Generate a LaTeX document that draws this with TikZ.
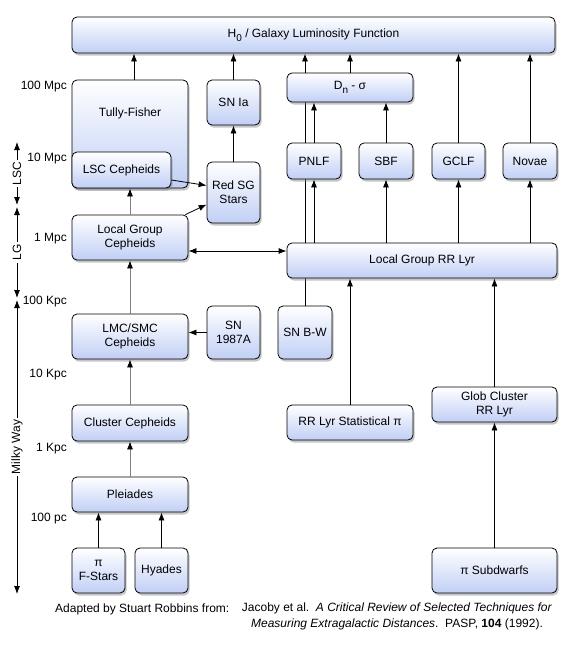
\documentclass[tikz,border=0pt]{standalone}
\usepackage{fontspec}
\setmainfont{Liberation Sans}
\usetikzlibrary{arrows.meta,shadows,backgrounds}
\definecolor{boxblue}{RGB}{192,207,245}
\newcommand{\lowsub}[1]{\raisebox{-3.5pt}{\fontsize{10}{12}\selectfont #1}}
\tikzset{
	box/.style={draw=black, line width=0.8pt, rounded corners=5pt, top color=white, bottom color=boxblue,
		drop shadow={shadow xshift=1.5pt, shadow yshift=-2.5pt, opacity=0.45}, align=center, inner sep=0pt,
		font=\fontsize{12}{14}\selectfont},
	dims/.style 2 args={minimum width=#1pt, minimum height=#2pt},
	link/.style={line width=0.8pt, -{Latex[length=8pt,width=6pt]}},
	graylink/.style={line width=0.8pt, draw=black!50, -{Latex[length=8pt,width=6pt,color=black]}},
	axis/.style={line width=0.8pt, {Latex[length=8pt,width=6pt]}-{Latex[length=8pt,width=6pt]}},
	axislabel/.style={fill=white, rotate=90, inner sep=2pt, font=\fontsize{12}{14}\selectfont},
	tick/.style={anchor=east, inner sep=0pt, font=\fontsize{12}{14}\selectfont}
}
\begin{document}
\begin{tikzpicture}[x=1pt, y=-1pt]
\useasboundingbox (0,0) rectangle (577,653);
% boxes
\node[box, dims={483}{36}] (h0) at (313.5,35) {H\lowsub{0} / Galaxy Luminosity Function};
\node[box, dims={116}{108}, label={[yshift=21pt, font=\fontsize{12}{14}\selectfont]center:Tully-Fisher}] (tf) at (130,134) {};
\node[box, dims={99}{36}] (lsc) at (121.5,170) {LSC Cepheids};
\node[box, dims={53}{45}] (snia) at (233.5,102.5) {SN Ia};
\node[box, dims={53}{61}] (redsg) at (233.5,192.5) {Red SG\\Stars};
\node[box, dims={126}{29}] (dn) at (350,87.5) {D\lowsub{n} - σ};
\node[box, dims={54}{36}] (pnlf) at (314,161) {PNLF};
\node[box, dims={54}{36}] (sbf) at (386,161) {SBF};
\node[box, dims={53}{36}] (gclf) at (458.5,161) {GCLF};
\node[box, dims={54}{36}] (novae) at (530,161) {Novae};
\node[box, dims={116}{45}] (lgceph) at (130,237.5) {Local Group\\Cepheids};
\node[box, dims={270}{35}] (rrlyr) at (422,260.5) {Local Group RR Lyr};
\node[box, dims={116}{45}] (lmc) at (130,336.5) {LMC/SMC\\Cepheids};
\node[box, dims={53}{53}] (sn87) at (233.5,332.5) {SN\\1987A};
\node[box, dims={54}{53}] (snbw) at (305,332.5) {SN B-W};
\node[box, dims={116}{36}] (clceph) at (130,423) {Cluster Cepheids};
\node[box, dims={126}{35}] (stat) at (350,422.5) {RR Lyr Statistical π};
\node[box, dims={125}{35}] (glob) at (494.5,404.5) {Glob Cluster\\RR Lyr};
\node[box, dims={116}{35}] (pleiades) at (130,494.5) {Pleiades};
\node[box, dims={53}{45}] (fstars) at (98.5,570.5) {π\\F-Stars};
\node[box, dims={53}{45}] (hyades) at (161.5,570.5) {Hyades};
\node[box, dims={125}{45}] (subdw) at (494.5,570.5) {π Subdwarfs};

% connectors
\begin{scope}[on background layer]
\draw[link] (snbw.north) -- (snbw.north |- h0.south); % runs behind the boxes
\end{scope}
\draw[link] ([xshift=4pt]tf.north) -- ([xshift=4pt]tf.north |- h0.south);
\foreach \n in {snia,dn,gclf,novae}
	\draw[link] (\n.north) -- (\n.north |- h0.south);
\draw[link] (redsg.north) -- (snia.south);
\foreach \n in {pnlf,sbf}
	\draw[link] (\n.north) -- (\n.north |- dn.south);
\foreach \n in {pnlf,sbf,gclf,novae}
	\draw[link] (\n.south |- rrlyr.north) -- (\n.south);
\draw[link] ([yshift=-10pt]lsc.east) -- ([yshift=7pt]redsg.west);
\draw[link] ([xshift=-3pt]lgceph.north east) -- ([yshift=-12pt]redsg.west);
\draw[axis] ([yshift=-13.5pt]lgceph.east) -- ([yshift=-13.5pt]lgceph.east -| rrlyr.west);
\draw[graylink] (lgceph.north) -- (lgceph.north |- lsc.south);
\draw[graylink] (lmc.north) -- (lgceph.south);
\draw[link] (sn87.west) -- (sn87.west -| lmc.east);
\draw[graylink] (clceph.north) -- (lmc.south);
\draw[graylink] (pleiades.north) -- (clceph.south);
\foreach \n in {fstars,hyades}
	\draw[link] (\n.north) -- (\n.north |- pleiades.south);
\draw[link] (stat.north) -- (stat.north |- rrlyr.south);
\draw[link] (glob.north) -- (glob.north |- rrlyr.south);
\draw[link] (subdw.north) -- (glob.south);

% distance scale
\foreach \y/\t in {87/100 Mpc, 159/10 Mpc, 239/1 Mpc, 302/100 Kpc, 375/10 Kpc, 449/1 Kpc, 519/100 pc}
	\node[tick] (tick\y) at (67,\y) {\t};
\coordinate (lsctop) at (17,142);
\coordinate (lscbot) at (17,205);
\coordinate (lgtop) at (17,207);
\coordinate (lgbot) at (17,298);
\coordinate (mwtop) at (17,300);
\coordinate (mwbot) at (17,594);
\draw[axis] (lsctop) -- node[axislabel] (lsclab) {LSC} (lscbot);
\draw[axis] (lgtop) -- node[axislabel] (lglab) {LG} (lgbot);
\draw[axis] (mwtop) -- node[axislabel] (mwlab) {Milky Way} (mwbot);

% credit
\node[anchor=base west, inner sep=0pt, font=\fontsize{12}{16}\selectfont] (credit) at (55,612) {Adapted by Stuart Robbins from:};
\node[anchor=north, align=center, inner sep=0pt, font=\fontsize{12}{16}\selectfont] (source) at (397,603)
	{Jacoby et al.\ \ \textit{A Critical Review of Selected Techniques for}\\
	\textit{Measuring Extragalactic Distances}.\ \ PASP, \textbf{104} (1992).};
\end{tikzpicture}
\end{document}
